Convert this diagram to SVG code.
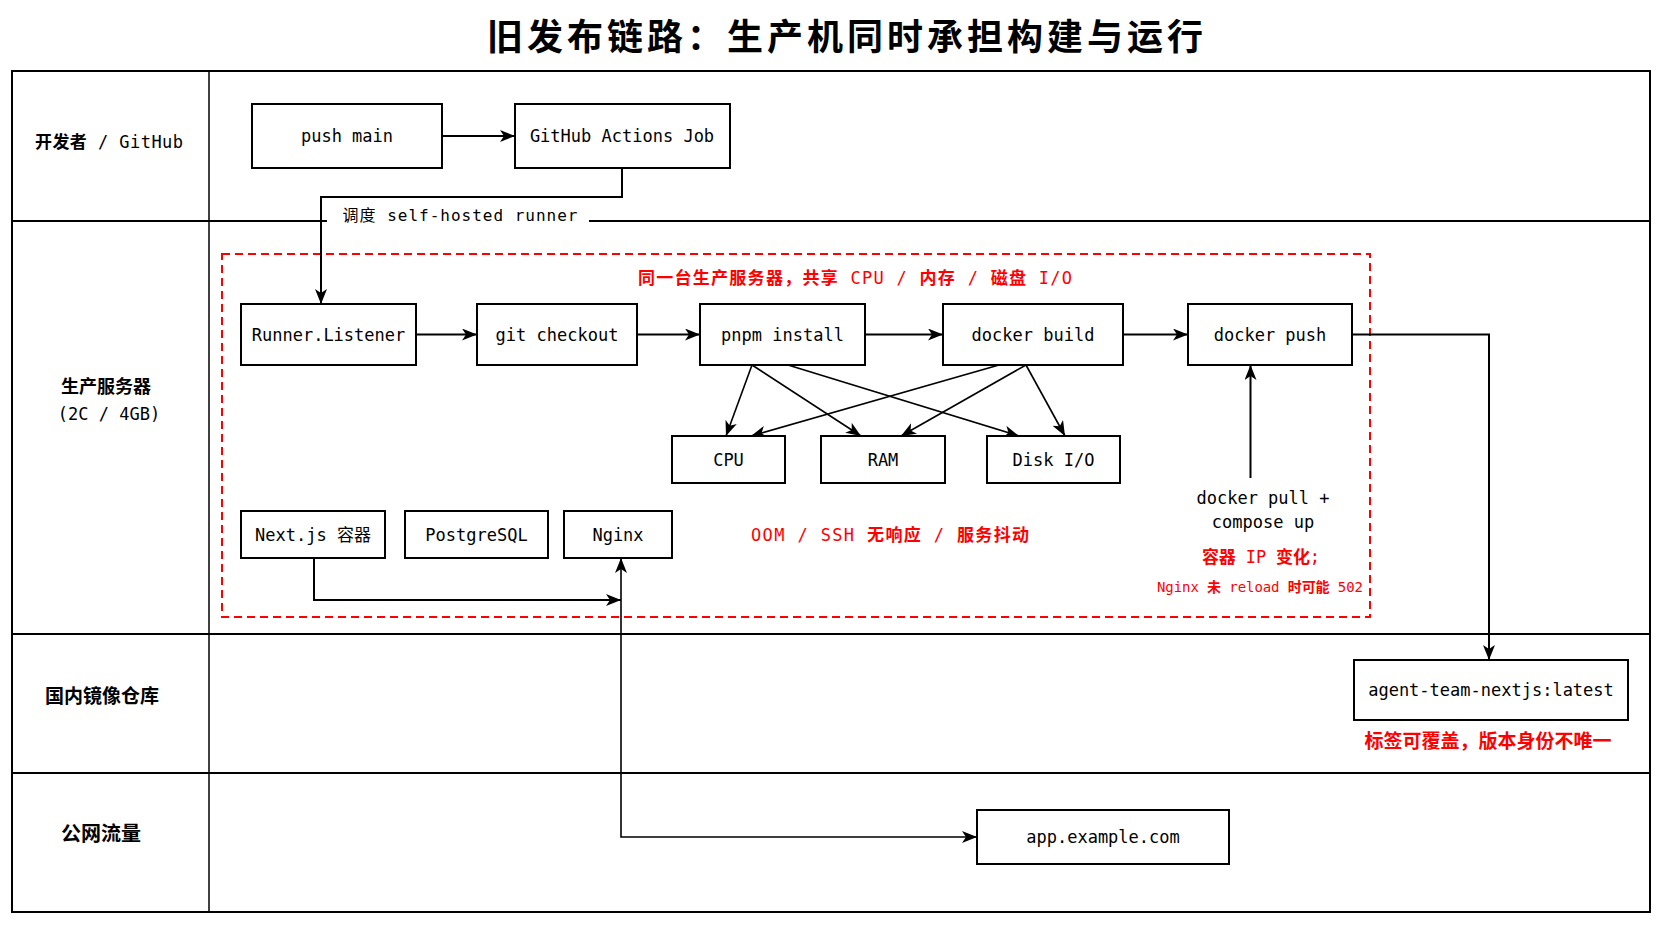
<svg xmlns="http://www.w3.org/2000/svg" width="1672" height="941" viewBox="0 0 1672 941">
<style>
.t{font-family:"DejaVu Sans Mono","Noto Sans CJK SC",monospace;font-size:17px;fill:#000;text-anchor:middle;dominant-baseline:central}
.r{fill:#ff0000}
.b{font-weight:bold}
.box{fill:#fff;stroke:#000;stroke-width:2}
.lane{fill:none;stroke:#000;stroke-width:2}
.c{fill:none;stroke:#000;stroke-width:2}
.c2{fill:none;stroke:#000;stroke-width:1.6}
.title{font-family:"Noto Sans CJK SC","DejaVu Sans",sans-serif;font-size:36px;font-weight:bold;fill:#000}
</style>
<defs>
<marker id="ah" markerWidth="16" markerHeight="13" refX="15" refY="6" orient="auto-start-reverse" markerUnits="userSpaceOnUse">
<path d="M0,0 L15,6 L0,12 L4,6 z" fill="#000"/>
</marker>
</defs>
<rect width="1672" height="941" fill="#fff"/>
<text class="title" x="487" y="50" textLength="716" lengthAdjust="spacing">旧发布链路：生产机同时承担构建与运行</text>

<g id="lanes">
<rect class="lane" x="12" y="71" width="1638" height="841"/>
<line class="lane" x1="12" y1="221" x2="1650" y2="221"/>
<line class="lane" x1="12" y1="634" x2="1650" y2="634"/>
<line class="lane" x1="12" y1="773" x2="1650" y2="773"/>
<line x1="209" y1="71" x2="209" y2="912" stroke="#000" stroke-width="1.5"/>
<text class="t" x="109" y="142" textLength="148" lengthAdjust="spacing"><tspan class="b">开发者</tspan> / GitHub</text>
<text class="t b" x="106" y="386" style="font-size:18px">生产服务器</text>
<text class="t" x="109" y="414">(2C / 4GB)</text>
<text class="t b" x="102" y="696" style="font-size:19px">国内镜像仓库</text>
<text class="t b" x="101" y="834" style="font-size:20px">公网流量</text>
</g>

<g id="server-zone">
<rect x="222" y="254" width="1148" height="363" fill="none" stroke="#ff0000" stroke-width="2" stroke-dasharray="8,5"/>
<text class="t r" x="855" y="278" textLength="434" lengthAdjust="spacing"><tspan class="b">同一台生产服务器，共享</tspan> CPU / <tspan class="b">内存</tspan> / <tspan class="b">磁盘</tspan> I/O</text>
<text class="t r" x="890" y="535" textLength="278" lengthAdjust="spacing">OOM / SSH <tspan class="b">无响应</tspan> / <tspan class="b">服务抖动</tspan></text>
<text class="t" x="1263" y="498">docker pull +</text>
<text class="t" x="1263" y="522">compose up</text>
<text class="t r" x="1261" y="557" textLength="118" lengthAdjust="spacing"><tspan class="b">容器</tspan> IP <tspan class="b">变化</tspan>;</text>
<text class="t r" x="1260" y="587" style="font-size:14px" textLength="206" lengthAdjust="spacing">Nginx <tspan class="b">未</tspan> reload <tspan class="b">时可能</tspan> 502</text>
</g>

<g id="connectors">
<path class="c" d="M442,136 H515" marker-end="url(#ah)"/>
<path class="c" d="M622,168 V197 H321 V304" marker-end="url(#ah)"/>
<rect x="327" y="207" width="262" height="26" fill="#fff"/>
<text class="t" x="460" y="215" style="font-size:16px" textLength="235" lengthAdjust="spacing">调度 self-hosted runner</text>
<path class="c" d="M416,334.5 H477" marker-end="url(#ah)"/>
<path class="c" d="M637,334.5 H700" marker-end="url(#ah)"/>
<path class="c" d="M865,334.5 H943" marker-end="url(#ah)"/>
<path class="c" d="M1123,334.5 H1188" marker-end="url(#ah)"/>
<path class="c" d="M1352,334.5 H1489 V660" marker-end="url(#ah)"/>
<path class="c2" d="M752,365 L726,436" marker-end="url(#ah)"/>
<path class="c2" d="M752,365 L861,436" marker-end="url(#ah)"/>
<path class="c2" d="M788,365 L1019,436" marker-end="url(#ah)"/>
<path class="c2" d="M999,365 L751,436" marker-end="url(#ah)"/>
<path class="c2" d="M1026,365 L901,436" marker-end="url(#ah)"/>
<path class="c2" d="M1026,365 L1065,436" marker-end="url(#ah)"/>
<path class="c" d="M1250.5,478 V365" marker-end="url(#ah)"/>
<path class="c" d="M314,558 V600 H621" marker-end="url(#ah)"/>
<path class="c2" d="M621,558 V837 H977" marker-start="url(#ah)" marker-end="url(#ah)"/>
</g>

<g id="node-push-main"><rect class="box" x="252" y="104" width="190" height="64"/><text class="t" x="347" y="136">push main</text></g>
<g id="node-gha"><rect class="box" x="515" y="104" width="215" height="64"/><text class="t" x="622" y="136">GitHub Actions Job</text></g>
<g id="node-runner"><rect class="box" x="241" y="304" width="175" height="61"/><text class="t" x="328.5" y="334.5">Runner.Listener</text></g>
<g id="node-git"><rect class="box" x="477" y="304" width="160" height="61"/><text class="t" x="557" y="334.5">git checkout</text></g>
<g id="node-pnpm"><rect class="box" x="700" y="304" width="165" height="61"/><text class="t" x="782.5" y="334.5">pnpm install</text></g>
<g id="node-build"><rect class="box" x="943" y="304" width="180" height="61"/><text class="t" x="1033" y="334.5">docker build</text></g>
<g id="node-push"><rect class="box" x="1188" y="304" width="164" height="61"/><text class="t" x="1270" y="334.5">docker push</text></g>
<g id="node-cpu"><rect class="box" x="672" y="436" width="113" height="47"/><text class="t" x="728.5" y="459.5">CPU</text></g>
<g id="node-ram"><rect class="box" x="821" y="436" width="124" height="47"/><text class="t" x="883" y="459.5">RAM</text></g>
<g id="node-disk"><rect class="box" x="987" y="436" width="133" height="47"/><text class="t" x="1053.5" y="459.5">Disk I/O</text></g>
<g id="node-next"><rect class="box" x="241" y="511" width="144" height="47"/><text class="t" x="313" y="534.5">Next.js 容器</text></g>
<g id="node-pg"><rect class="box" x="405" y="511" width="143" height="47"/><text class="t" x="476.5" y="534.5">PostgreSQL</text></g>
<g id="node-nginx"><rect class="box" x="564" y="511" width="108" height="47"/><text class="t" x="618" y="534.5">Nginx</text></g>
<g id="node-registry"><rect class="box" x="1354" y="660" width="274" height="60"/><text class="t" x="1491" y="690">agent-team-nextjs:latest</text>
<text class="t r b" x="1488" y="741" style="font-size:19px">标签可覆盖，版本身份不唯一</text></g>
<g id="node-app"><rect class="box" x="977" y="810" width="252" height="54"/><text class="t" x="1103" y="837">app.example.com</text></g>
</svg>
